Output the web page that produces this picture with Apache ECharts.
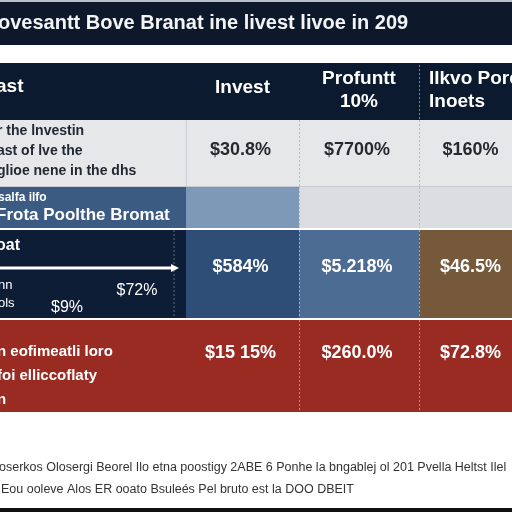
<!DOCTYPE html>
<html><head><meta charset="utf-8">
<script src="https://cdn.jsdelivr.net/npm/echarts@6/dist/echarts.min.js"></script>
<style>html,body{margin:0;padding:0;background:#fff}#c{width:512px;height:512px}</style>
</head><body><div id="c"></div>
<script>
// ---- data ----
const titleText = "ovesantt Bove Branat ine livest livoe in 209";
const headers = ["ast", "Invest", "Profuntt\n10%", "Ilkvo Pore\nInoets"];
const rowLabels = [
  "r the lnvestin\nast of lve the\nglioe nene in the dhs",
  "salfa ilfo\nFrota Poolthe Bromat",
  "oat",
  "n eofimeatli loro\nfoi elliccoflaty\nn"
];
const row1Values = ["$30.8%", "$7700%", "$160%"];
const row2Values = ["", "", ""];
const row3Values = ["$584%", "$5.218%", "$46.5%"];
const row4Values = ["$15 15%", "$260.0%", "$72.8%"];
const row3SubLabels = ["nn", "ols"];
const row3SubValues = ["$72%", "$9%"];
const footnotes = [
  "oserkos Olosergi Beorel Ilo etna poostigy 2ABE 6 Ponhe la bngablej ol 201 Pvella Heltst Ilel",
  "Eou ooleve Alos ER ooato Bsuleés Pel bruto est la DOO DBEIT"
];

// ---- layout / style ----
const colEdges = [0, 186, 299, 419, 512];
const rowEdges = [[63, 120], [120, 187], [187, 228], [230, 318], [320, 412]];
const cellColors = [
  ['#0b1a2f', '#0b1a2f', '#0b1a2f', '#0b1a2f'],
  ['#e6e7e9', '#e6e7e9', '#e6e7e9', '#e6e7e9'],
  ['#3c5b83', '#7e99b8', '#dcdde0', '#dcdde0'],
  ['#0c1d35', '#2f4e77', '#4c6c93', '#76583a'],
  ['#9a2b22', '#9a2b22', '#9a2b22', '#9a2b22']
];
const FONT = '"Liberation Sans", Arial, sans-serif';
const valueRows = [null, row1Values, row2Values, row3Values, row4Values];
const valueColors = [null, '#262a30', '#262a30', '#ffffff', '#ffffff'];

const cellData = [];
for (let r = 0; r < rowEdges.length; r++) for (let c = 0; c < 4; c++) cellData.push([c, r]);

function renderCell(params, api) {
  const c = api.value(0), r = api.value(1);
  const p0 = api.coord([colEdges[c], rowEdges[r][0]]);
  const p1 = api.coord([colEdges[c + 1], rowEdges[r][1]]);
  const children = [{
    type: 'rect', shape: {x: p0[0], y: p0[1], width: p1[0] - p0[0], height: p1[1] - p0[1]},
    style: {fill: cellColors[r][c]}
  }];
  const cx = (p0[0] + p1[0]) / 2, cy = (p0[1] + p1[1]) / 2;
  if (r === 0) {
    if (c === 0) {
      children.push({type: 'text', style: {text: headers[0], x: p0[0] - 4, y: cy - 5, fill: '#fff', font: 'bold 19px ' + FONT, verticalAlign: 'middle'}});
    } else if (c === 3) {
      children.push({type: 'text', style: {text: headers[3], x: p0[0] + 10, y: cy - 1, fill: '#fff', font: 'bold 19px ' + FONT, verticalAlign: 'middle', lineHeight: 23}});
    } else {
      children.push({type: 'text', style: {text: headers[c], x: cx, y: c === 1 ? cy - 4 : cy - 1, fill: '#fff', font: 'bold 19px ' + FONT, align: 'center', verticalAlign: 'middle', lineHeight: 23}});
    }
  } else if (c > 0) {
    const v = valueRows[r][c - 1];
    if (v) {
      const vy = r === 1 ? p0[1] + 30 : (r === 3 ? p0[1] + 37 : p0[1] + 33);
      const vx = c === 3 ? cx + 5 : cx - 2;
      children.push({type: 'text', style: {text: v, x: vx, y: vy, fill: valueColors[r], font: 'bold 18px ' + FONT, align: 'center', verticalAlign: 'middle'}});
    }
  } else {
    const lab = rowLabels[r - 1];
    if (r === 1) {
      children.push({type: 'text', style: {text: lab, x: p0[0] - 3, y: cy - 2, fill: '#222833', font: 'bold 14px ' + FONT, verticalAlign: 'middle', lineHeight: 20}});
    } else if (r === 2) {
      const parts = lab.split('\n');
      children.push({type: 'text', style: {text: parts[0], x: p0[0] - 2, y: p0[1] + 11, fill: '#fff', font: 'bold 12px ' + FONT, verticalAlign: 'middle'}});
      children.push({type: 'text', style: {text: parts[1], x: p0[0] - 4, y: p0[1] + 28, fill: '#fff', font: 'bold 17px ' + FONT, verticalAlign: 'middle'}});
    } else if (r === 3) {
      children.push({type: 'text', style: {text: lab, x: p0[0] - 4, y: p0[1] + 16, fill: '#fff', font: 'bold 16px ' + FONT, verticalAlign: 'middle'}});
      // arrow
      children.push({type: 'line', shape: {x1: p0[0], y1: p0[1] + 38, x2: p0[0] + 174, y2: p0[1] + 38}, style: {stroke: '#fff', lineWidth: 3}});
      children.push({type: 'polygon', shape: {points: [[p0[0] + 171, p0[1] + 34], [p0[0] + 179, p0[1] + 38], [p0[0] + 171, p0[1] + 42]]}, style: {fill: '#fff'}});
      children.push({type: 'line', shape: {x1: p0[0] + 174, y1: p0[1], x2: p0[0] + 174, y2: p1[1]}, style: {stroke: 'rgba(255,255,255,0.35)', lineWidth: 1, lineDash: [2, 2]}});
      children.push({type: 'text', style: {text: row3SubLabels[0], x: p0[0] - 2, y: p0[1] + 55, fill: '#fff', font: '13px ' + FONT, verticalAlign: 'middle'}});
      children.push({type: 'text', style: {text: row3SubLabels[1], x: p0[0] - 2, y: p0[1] + 73, fill: '#fff', font: '13px ' + FONT, verticalAlign: 'middle'}});
      children.push({type: 'text', style: {text: row3SubValues[0], x: p0[0] + 137, y: p0[1] + 61, fill: '#fff', font: '16px ' + FONT, align: 'center', verticalAlign: 'middle'}});
      children.push({type: 'text', style: {text: row3SubValues[1], x: p0[0] + 67, y: p0[1] + 78, fill: '#fff', font: '16px ' + FONT, align: 'center', verticalAlign: 'middle'}});
    } else if (r === 4) {
      children.push({type: 'text', style: {text: lab, x: p0[0] - 3, y: p0[1] + 56, fill: '#fff', font: 'bold 15px ' + FONT, verticalAlign: 'middle', lineHeight: 24}});
    }
  }
  // dashed separators
  if (c >= 2 && r >= 1) {
    children.push({type: 'line', shape: {x1: p0[0] + 0.5, y1: p0[1], x2: p0[0] + 0.5, y2: p1[1]}, style: {stroke: r === 1 || r === 2 ? 'rgba(170,175,185,0.8)' : 'rgba(255,255,255,0.45)', lineWidth: 1, lineDash: [2, 2]}});
  }
  if (c === 3 && r === 0) {
    children.push({type: 'line', shape: {x1: p0[0] + 0.5, y1: p0[1] + 2, x2: p0[0] + 0.5, y2: p1[1]}, style: {stroke: 'rgba(200,205,215,0.6)', lineWidth: 1, lineDash: [2, 2]}});
  }
  if (c === 1 && r === 1) {
    children.push({type: 'line', shape: {x1: p0[0] + 0.5, y1: p0[1], x2: p0[0] + 0.5, y2: p1[1]}, style: {stroke: 'rgba(200,202,208,0.8)', lineWidth: 1}});
  }
  if (r === 1) {
    children.push({type: 'line', shape: {x1: p0[0], y1: p1[1] - 0.5, x2: p1[0], y2: p1[1] - 0.5}, style: {stroke: '#c9cbd0', lineWidth: 1}});
  }
  return {type: 'group', children};
}

const chart = echarts.init(document.getElementById('c'), null, {renderer: 'canvas'});
chart.setOption({
  backgroundColor: '#ffffff',
  animation: false,
  grid: {left: 0, right: 0, top: 0, bottom: 0},
  xAxis: {type: 'value', min: 0, max: 512, show: false},
  yAxis: {type: 'value', min: 0, max: 512, inverse: true, show: false},
  graphic: [
    {type: 'rect', left: 0, top: 2, shape: {width: 512, height: 43}, style: {fill: '#0d192a'}, z: 0},
    {type: 'rect', left: 0, top: 0, shape: {width: 512, height: 2}, style: {fill: '#b8bfc8'}, z: 0},
    {type: 'text', left: -2, top: 13, style: {text: titleText, fill: '#f2f4f6', font: 'bold 20px ' + FONT}, z: 5},
    {type: 'text', left: -1, top: 461, style: {text: footnotes[0], fill: '#333', font: '12.5px ' + FONT}, z: 5},
    {type: 'text', left: 1, top: 483, style: {text: footnotes[1], fill: '#333', font: '12.5px ' + FONT}, z: 5},
    {type: 'rect', left: 0, top: 508, shape: {width: 512, height: 4}, style: {fill: '#111'}, z: 0}
  ],
  series: [{
    type: 'custom',
    coordinateSystem: 'cartesian2d',
    renderItem: renderCell,
    data: cellData,
    silent: true
  }]
});
</script>
</body></html>
